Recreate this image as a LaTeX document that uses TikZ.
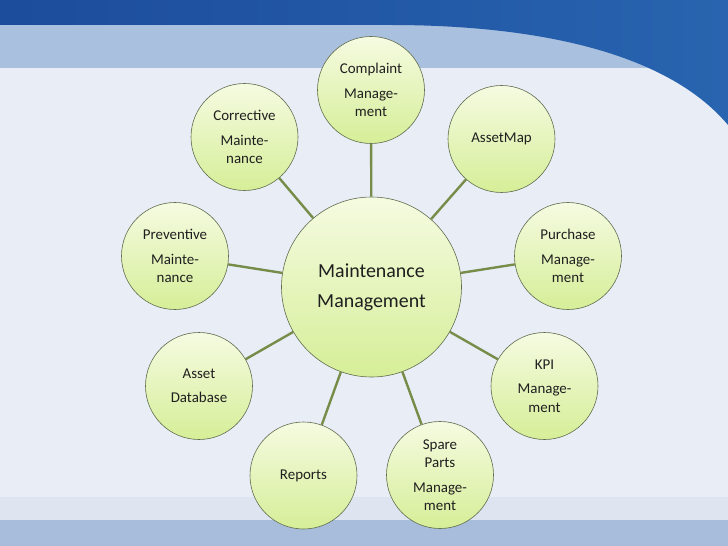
\documentclass[tikz,border=0pt]{standalone}
\usepackage{fontspec}
\setmainfont{Carlito}
\usepackage{tikz}
\usetikzlibrary{shapes}

\definecolor{bgpale}{RGB}{233,238,246}
\definecolor{bandlight}{RGB}{170,192,223}
\definecolor{banddark}{RGB}{28,76,156}
\definecolor{banddarkR}{RGB}{40,100,175}
\definecolor{footline}{RGB}{222,229,240}
\definecolor{footband}{RGB}{168,188,219}
\definecolor{leaftop}{RGB}{245,251,225}
\definecolor{leafbot}{RGB}{214,238,152}
\definecolor{leafrim}{RGB}{96,108,78}
\definecolor{spokecol}{RGB}{118,140,72}

\begin{document}
\begin{tikzpicture}[x=1bp,y=-1bp,line join=bevel,
  leaf/.style={circle,draw=leafrim,line width=0.6bp,top color=leaftop,bottom color=leafbot,
    minimum size=107bp,inner sep=0pt,align=center,text=black!88,
    font=\fontsize{15}{18.5}\selectfont},
  hub/.style={leaf,minimum size=180bp,font=\fontsize{20}{24}\selectfont},
  spoke/.style={draw=spokecol,line width=2.4bp}]
\useasboundingbox (0,0) rectangle (728,546);
%% backdrop
\fill[bgpale] (0,0) rectangle (728,546);
\fill[bandlight] (0,0) rectangle (728,68);
\shade[left color=banddark,right color=banddarkR] (0,0) -- (0,25) -- (390,25)
  .. controls (530,25) and (665,50) .. (728,125) -- (728,0) -- cycle;
\fill[footline] (0,497) rectangle (728,520);
\fill[footband] (0,520) rectangle (728,546);
%%
  % Node: hub
  \node[hub] (hub) at (371.5,287) {Maintenance\\[6bp]Management};
  % Node: complaint
  \node[leaf] (complaint) at (371,90) {Complaint\\[6bp]Manage-\\ment};
  % Node: assetmap
  \node[leaf] (assetmap) at (501.5,139) {AssetMap};
  % Node: purchase
  \node[leaf] (purchase) at (568,256) {Purchase\\[6bp]Manage-\\ment};
  % Node: kpi
  \node[leaf] (kpi) at (544.5,386) {KPI\\[6bp]Manage-\\ment};
  % Node: spare
  \node[leaf] (spare) at (440,475) {Spare\\Parts\\[6bp]Manage-\\ment};
  % Node: reports
  \node[leaf] (reports) at (303.5,475.5) {Reports};
  % Node: assetdb
  \node[leaf] (assetdb) at (199,386) {Asset\\[6bp]Database};
  % Node: preventive
  \node[leaf] (preventive) at (175,256) {Preventive\\[6bp]Mainte-\\nance};
  % Node: corrective
  \node[leaf] (corrective) at (244.5,137) {Corrective\\[6bp]Mainte-\\nance};
%
  % Edges: hub -> leaves
  \foreach \leafname in {complaint,assetmap,purchase,kpi,spare,reports,assetdb,preventive,corrective}
    \draw[spoke] (hub) -- (\leafname);
%
\end{tikzpicture}
\end{document}
